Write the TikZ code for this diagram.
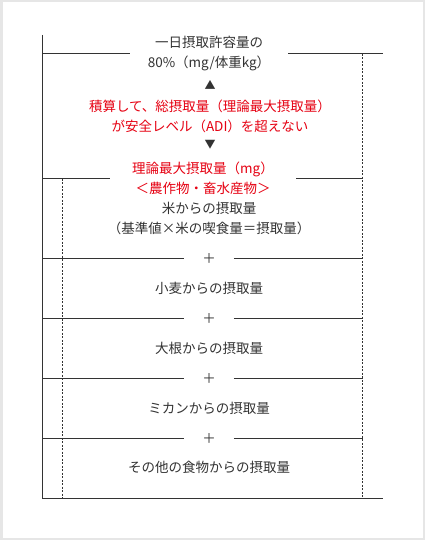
\documentclass[tikz,border=0pt]{standalone}
\usepackage{fontspec}
\setmainfont{Noto Sans CJK JP}
\definecolor{framegray}{HTML}{E6E6E6}
\definecolor{linegray}{HTML}{333333}
\definecolor{txtgray}{HTML}{333333}
\definecolor{warnred}{HTML}{E60012}

\begin{document}
\begin{tikzpicture}
[x=1pt,y=-1pt,
box/.style={align=center,text=txtgray,inner xsep=18pt,inner ysep=0pt,font=\fontsize{13.5}{20}\selectfont},
warn/.style={box,text=warnred},
arrowmark/.style={text=txtgray,inner sep=0pt,font=\fontsize{11}{11}\selectfont},
rule/.style={draw=linegray,line width=1pt},
guide/.style={draw=linegray,line width=0.8pt,dash pattern=on 2pt off 1.5pt},]

%Frame
\fill[framegray] (0,0) rectangle (425,540);
\fill[white] (2.5,2.5) rectangle (422.5,537.5);
\useasboundingbox (0,0) rectangle (425,540);

%Corner points
\coordinate (T) at (42.5,35);
\coordinate (B) at (42.5,498);
\coordinate (BR) at (383,498);
\coordinate (TR) at (383,54);
\coordinate (RT) at (362.5,54);
\coordinate (RB) at (362.5,498);
\coordinate (LT) at (62.5,178.5);
\coordinate (LB) at (62.5,498);

%Labeling texts
\node (adi) at (209,54)[box] {一日摂取許容量の\\80\%（mg/体重kg）};
\node (up) at (210,85)[arrowmark] {▲};
\node (cond) at (210,116)[warn] {積算して、総摂取量（理論最大摂取量）\\が安全レベル（ADI）を超えない};
\node (down) at (210,145)[arrowmark] {▼};
\node (tmdi) at (203,178.5)[warn,inner xsep=22pt] {理論最大摂取量（mg）\\＜農作物・畜水産物＞};
\node (rice) at (209,218)[box] {米からの摂取量\\（基準値×米の喫食量＝摂取量）};
\node (plusA) at (209,258.5)[box] {＋};
\node (wheat) at (209,288)[box] {小麦からの摂取量};
\node (plusB) at (209,318.5)[box] {＋};
\node (radish) at (209,348)[box] {大根からの摂取量};
\node (plusC) at (209,378.5)[box] {＋};
\node (mikan) at (209,408)[box] {ミカンからの摂取量};
\node (plusD) at (209,438.5)[box] {＋};
\node (other) at (209,467)[box] {その他の食物からの摂取量};

%Drawing outer lines
\draw[rule] (T) -- (B) -- (BR);
\draw[rule] (adi.west -| T) -- (adi.west);
\draw[rule] (adi.east) -- (TR);
\draw[rule] (tmdi.west -| T) -- (tmdi.west);
\draw[rule] (tmdi.east) -- (tmdi.east -| RT);

%Joining the plus lines
\draw[rule] (plusA.west -| T) -- (plusA.west);
\draw[rule] (plusA.east) -- (plusA.east -| RT);
\draw[rule] (plusB.west -| T) -- (plusB.west);
\draw[rule] (plusB.east) -- (plusB.east -| RT);
\draw[rule] (plusC.west -| T) -- (plusC.west);
\draw[rule] (plusC.east) -- (plusC.east -| RT);
\draw[rule] (plusD.west -| T) -- (plusD.west);
\draw[rule] (plusD.east) -- (plusD.east -| RT);

%Dotted guides
\draw[guide] (RT) -- (RB);
\draw[guide] (LT) -- (LB);

\end{tikzpicture}
\end{document}
